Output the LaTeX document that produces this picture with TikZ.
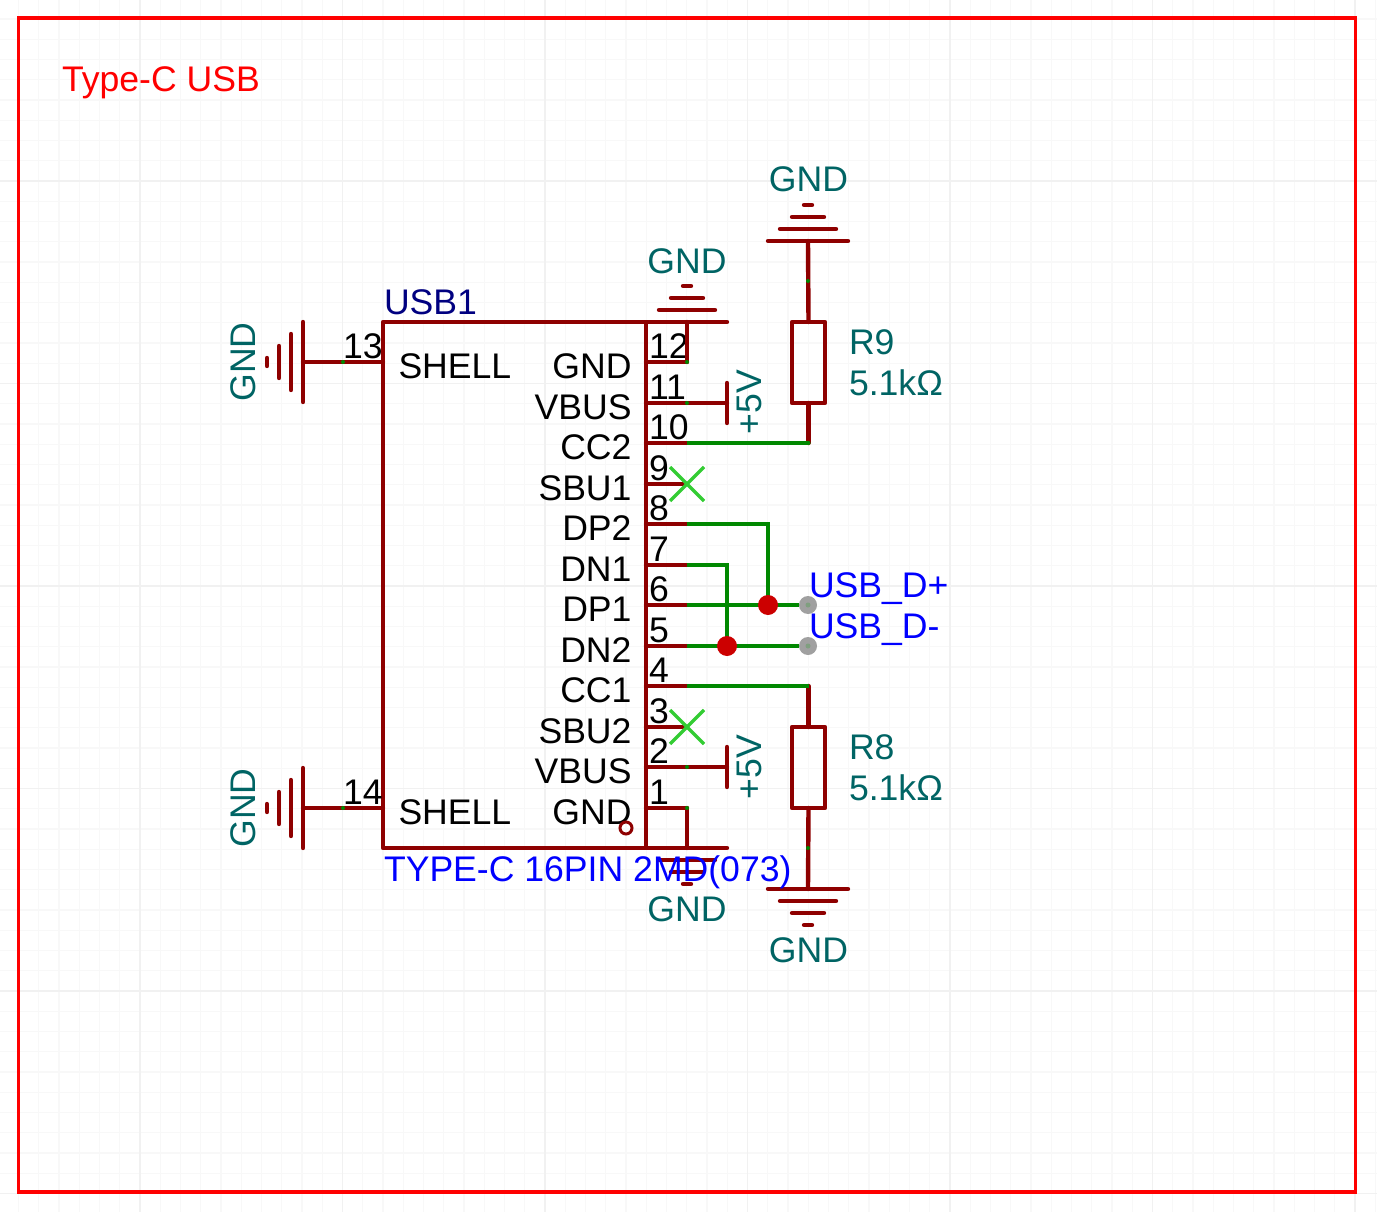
\documentclass[tikz,border=0pt]{standalone}
\usepackage{fontspec}
\setmainfont{Liberation Sans}
\usetikzlibrary{positioning}
\definecolor{wirered}{HTML}{8E0000}
\definecolor{wiregreen}{HTML}{008800}
\definecolor{nclime}{HTML}{33CC33}
\definecolor{dotred}{HTML}{CC0000}
\definecolor{netteal}{HTML}{006464}
\definecolor{refnavy}{HTML}{000080}
\definecolor{padgray}{HTML}{A0A0A0}
\definecolor{padcore}{HTML}{7F9F7F}
\definecolor{gridminor}{HTML}{F8F8F8}
\definecolor{gridmajor}{HTML}{F1F1F1}
\tikzstyle{every node}=[font=\fontsize{35.6}{40}\selectfont,inner sep=0,outer sep=0]
\tikzstyle{block}=[draw=wirered,line width=4.4,rectangle,line join=round]
\tikzstyle{pinwire}=[draw=wirered,line width=4.4,line cap=round]
\tikzstyle{net}=[draw=wiregreen,line width=4.4,line join=miter]
\tikzstyle{pinname}=[anchor=base east,text=black]
\tikzstyle{pinnum}=[anchor=base west,text=black]
\tikzstyle{netlabel}=[text=netteal]
\tikzstyle{portlabel}=[anchor=base west,text=blue]
\tikzstyle{joint}=[circle,fill=dotred,minimum size=20]
\tikzstyle{pad}=[circle,fill=padgray,minimum size=18]
\tikzstyle{tick}=[circle,fill=wiregreen,minimum size=4]
\tikzset{
  gndsym/.pic={
    \foreach \k/\w in {0/40,1/28,2/16,3/4}
      \draw[pinwire] (-\w,-12*\k) -- (\w,-12*\k);
  },
  nomark/.pic={
    \draw[nclime,line width=3.5] (-17,-17) -- (17,17) (-17,17) -- (17,-17);
  }
}

\begin{document}
\begin{tikzpicture}[x=1pt,y=-1pt]
    \useasboundingbox (0,0) rectangle (1377,1212);
    % grid
    \foreach \i in {0,...,68} {
        \draw[gridminor,line width=1.3] ({20.25*\i-1.75},0) -- ++(0,1212);
        \draw[gridminor,line width=1.3] (0,{20.25*\i-1.25}) -- ++(1377,0);
    }
    \foreach \i in {0,...,6} {
        \draw[gridmajor,line width=1.6] ({202.5*\i+140},0) -- ++(0,1212);
        \draw[gridmajor,line width=1.6] (0,{202.5*\i-21.5}) -- ++(1377,0);
    }
    % sheet
    \node[draw=red,line width=3.6,minimum width=1337,minimum height=1174] (sheet) at (687,605) {};
    \node[anchor=base west,text=red] (title) at (62,92) {Type-C USB};

    % connector body and pins
    \node[block,minimum width=263,minimum height=526] (usb1) at (514.5,585) {};
    \foreach \num/\y/\name in {12/362/GND,11/403/VBUS,10/443/CC2,9/484/SBU1,8/524/DP2,7/565/DN1,
                               6/605/DP1,5/646/DN2,4/686/CC1,3/727/SBU2,2/767/VBUS,1/808/GND} {
        \coordinate (pin\num) at (646,\y);
        \coordinate (end\num) at (687,\y);
        \draw[pinwire] (pin\num) -- (end\num);
        \node[pinname] (name\num) at (631.5,\y+16.5) {\name};
        \node[pinnum] (num\num) at (649,\y-4) {\num};
    }
    \foreach \num/\y in {13/362,14/808} {
        \coordinate (pin\num) at (383,\y);
        \coordinate (end\num) at (303,\y);
        \draw[pinwire] (pin\num) -- (end\num);
        \node[pinnum] (num\num) at (343,\y-4) {\num};
        \node[anchor=base west,text=black] (name\num) at (398.5,\y+16.5) {SHELL};
    }
    \node[anchor=base west,text=refnavy] (ref) at (384,314) {USB1};
    \node[circle,draw=wirered,line width=3,minimum size=12] (dot) at (626,828) {};

    % resistors
    \node[block,minimum width=33,minimum height=81] (r9) at (808.5,362.5) {};
    \node[netlabel,anchor=base west] (r9name) at (849,354) {R9};
    \node[netlabel,anchor=base west] (r9val) at (849,395) {5.1kΩ};
    \node[block,minimum width=33,minimum height=81] (r8) at (808.5,767.5) {};
    \node[netlabel,anchor=base west] (r8name) at (849,759) {R8};
    \node[netlabel,anchor=base west] (r8val) at (849,800) {5.1kΩ};

    % grounds
    \coordinate (gnd12) at (687,322);
    \coordinate (gnd1) at (687,848);
    \coordinate (gndr9) at (808,241);
    \coordinate (gndr8) at (808,889);
    \pic at (gnd12) {gndsym};
    \pic[rotate=180] at (gnd1) {gndsym};
    \pic at (gndr9) {gndsym};
    \pic[rotate=180] at (gndr8) {gndsym};
    \pic[rotate=90] at (end13) {gndsym};
    \pic[rotate=90] at (end14) {gndsym};
    \draw[pinwire] (end12) -- (gnd12);
    \draw[pinwire] (end1) -- (gnd1);
    \draw[pinwire] (r9.north) -- (gndr9);
    \draw[pinwire] (r8.south) -- (gndr8);
    \node[netlabel,anchor=base] (gndlabel12) at (687,273) {GND};
    \node[netlabel,anchor=base] (gndlabel1) at (687,921) {GND};
    \node[netlabel,anchor=base] (gndlabelr9) at (808.5,192) {GND};
    \node[netlabel,anchor=base] (gndlabelr8) at (808.5,962) {GND};
    \node[netlabel,anchor=base,rotate=90] (gndlabel13) at (255,362) {GND};
    \node[netlabel,anchor=base,rotate=90] (gndlabel14) at (255,808) {GND};

    % +5V flags
    \coordinate (vcc11) at (727,403);
    \coordinate (vcc2) at (727,767);
    \draw[pinwire] (end11) -- (vcc11);
    \draw[pinwire] (end2) -- (vcc2);
    \draw[pinwire] ([yshift=20pt]vcc11) -- ([yshift=-20pt]vcc11);
    \draw[pinwire] ([yshift=20pt]vcc2) -- ([yshift=-20pt]vcc2);
    \node[netlabel,anchor=base,rotate=90] (vcclabel11) at (761,402) {+5V};
    \node[netlabel,anchor=base,rotate=90] (vcclabel2) at (761,767) {+5V};

    % no connects
    \pic at (end9) {nomark};
    \pic at (end3) {nomark};

    % nets
    \coordinate (r9foot) at (r9.south |- end10);
    \coordinate (r8top) at (r8.north |- end4);
    \node[pad] (dplus) at (808,605) {};
    \node[pad] (dminus) at (808,646) {};
    \draw[pinwire] (r9.south) -- (r9foot);
    \draw[pinwire] (r8.north) -- (r8top);
    \draw[net] (end10) -- (r9foot);
    \draw[net] (end4) -- (r8top);
    \draw[net] (end6) -- (dplus);
    \draw[net] (end5) -- (dminus);
    \draw[net] (end8) -| (768,605);
    \draw[net] (end7) -| (727,646);
    \node[joint] (jplus) at (768,605) {};
    \node[joint] (jminus) at (727,646) {};
    \node[circle,fill=padcore,minimum size=5] (dpluscore) at (dplus) {};
    \node[circle,fill=padcore,minimum size=5] (dminuscore) at (dminus) {};
    \node[portlabel] (dpluslabel) at (809,597) {USB\_D+};
    \node[portlabel] (dminuslabel) at (809,638) {USB\_D-};
    \node[anchor=base west,text=blue] (value) at (384,881) {TYPE-C 16PIN 2MD(073)};

    % pin ends
    \node[tick] (t12) at (end12) {};
    \node[tick] (t11) at (end11) {};
    \node[tick] (t2) at (end2) {};
    \node[tick] (t1) at (end1) {};
    \node[tick] (t13) at (343,362) {};
    \node[tick] (t14) at (343,808) {};
    \node[tick] (tr9) at (808,281) {};
    \node[tick] (tr9b) at (r9foot) {};
    \node[tick] (tr8) at (808,848) {};
\end{tikzpicture}
\end{document}
